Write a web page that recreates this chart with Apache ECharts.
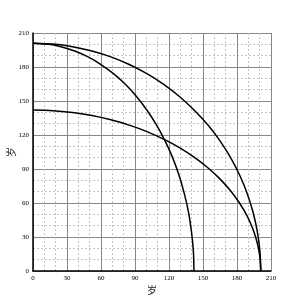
<!DOCTYPE html>
<html><head><meta charset="utf-8">
<script src="https://cdn.jsdelivr.net/npm/echarts@6/dist/echarts.min.js"></script>
<style>html,body{margin:0;padding:0;background:#fff}#c{width:306px;height:306px}</style>
</head><body><div id="c"></div>
<script>
var xName = '岁';
var yName = '岁';
var tickValues = [0, 30, 60, 90, 120, 150, 180, 210];
// outer quarter circle (radius ~201)
var circleOuter = [[201,0],[200.2,17.5],[197.9,34.9],[194.1,52.0],[188.9,68.7],[182.2,84.9],[174.1,100.5],[164.7,115.3],[154.0,129.2],[142.1,142.1],[129.2,154.0],[115.3,164.7],[100.5,174.1],[84.9,182.2],[68.7,188.9],[52.0,194.1],[34.9,197.9],[17.5,200.2],[0,201]];
// tall curve: from (0,201) down to (142,0)
var curveTall = [[142,0],[141.5,17.5],[139.8,34.9],[137.2,52.0],[133.4,68.7],[128.7,84.9],[123.0,100.5],[116.3,115.3],[108.8,129.2],[100.4,142.1],[91.3,154.0],[81.5,164.7],[71.0,174.1],[60.0,182.2],[48.6,188.9],[36.8,194.1],[24.7,197.9],[12.4,200.2],[0,201]];
// wide curve: from (0,142) down to (201,0)
var curveWide = [[201,0],[200.2,12.4],[197.9,24.7],[194.1,36.8],[188.9,48.6],[182.2,60.0],[174.1,71.0],[164.7,81.5],[154.0,91.3],[142.1,100.4],[129.2,108.8],[115.3,116.3],[100.5,123.0],[84.9,128.7],[68.7,133.4],[52.0,137.2],[34.9,139.8],[17.5,141.5],[0,142]];

var chart = echarts.init(document.getElementById('c'), null, {renderer:'canvas'});
function axis(name, gap, rot){
  return {
    type:'value', min:0, max:210, interval:30,
    name:name, nameLocation:'middle', nameGap:gap, nameRotate:rot, nameMoveOverlap:false,
    nameTextStyle:{fontFamily:'Noto Sans CJK SC', fontSize:10, color:'#222'},
    axisLine:{show:true, lineStyle:{color:'#000', width:1.5}},
    axisTick:{show:false},
    axisLabel:{fontFamily:'Liberation Serif', fontSize:7, color:'#000', margin:4},
    splitLine:{show:true, lineStyle:{color:'#888', width:1}},
    minorTick:{show:false, splitNumber:3},
    minorSplitLine:{show:true, lineStyle:{color:'#c4c4c4', width:1, type:[2,2]}}
  };
}
var xa = axis(xName, 14, 0);
var ya = axis(yName, 17, 90);
function ser(d){return {type:'line', data:d, smooth:0.3, symbol:'none', lineStyle:{color:'#000', width:1.5}};}
chart.setOption({
  animation:false,
  grid:{left:33, right:35, top:33, bottom:35, containLabel:false, outerBoundsMode:'none'},
  xAxis:xa, yAxis:ya,
  series:[ser(circleOuter), ser(curveTall), ser(curveWide)]
});
</script></body></html>
